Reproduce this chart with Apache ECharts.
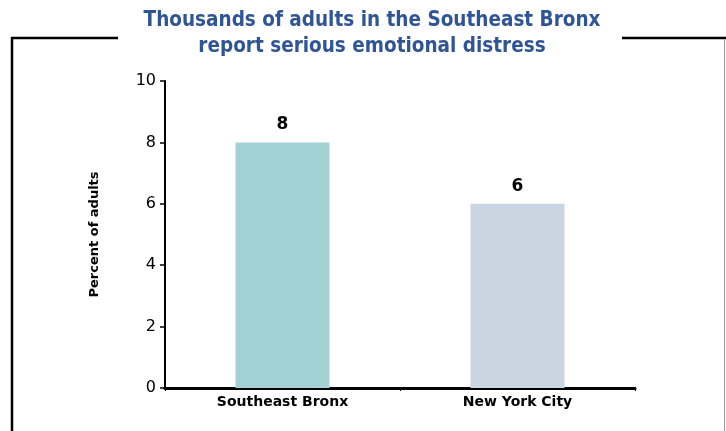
<!DOCTYPE html>
<html><head><meta charset="utf-8">
<script src="https://cdn.jsdelivr.net/npm/echarts@6/dist/echarts.min.js"></script>
<style>html,body{margin:0;padding:0;background:#fff}#c{width:726px;height:431px}</style>
</head><body><div id="c"></div>
<script>
var categories = ["Southeast Bronx", "New York City"];
var values = [8, 6];
var barColors = ["#a2d2d3", "#c9d5e1"];
var titleLines = ["Thousands of adults in the Southeast Bronx", "report serious emotional distress"];
var yTicks = [0, 2, 4, 6, 8, 10];

var chart = echarts.init(document.getElementById('c'), null, {renderer: 'canvas'});
var font = '"DejaVu Sans", Verdana, sans-serif';
var cond = '"DejaVu Sans Condensed", "DejaVu Sans", sans-serif';
chart.setOption({
  animation: false,
  title: {
    text: titleLines.join('\n'),
    left: 372, top: 8, textAlign: 'center',
    textStyle: {fontFamily: cond, fontSize: 20.5, fontWeight: 'bold', color: '#2f5597', lineHeight: 25.5},
    padding: 0
  },
  graphic: [
    {type: 'line', z: -1, shape: {x1: 11, y1: 38, x2: 118, y2: 38}, style: {stroke: '#000', lineWidth: 2.5}},
    {type: 'line', z: -1, shape: {x1: 622, y1: 38, x2: 726, y2: 38}, style: {stroke: '#000', lineWidth: 2.5}},
    {type: 'line', z: -1, shape: {x1: 12, y1: 37, x2: 12, y2: 431}, style: {stroke: '#000', lineWidth: 2.5}},
    {type: 'line', z: -1, shape: {x1: 724.5, y1: 39, x2: 724.5, y2: 431}, style: {stroke: '#999', lineWidth: 1}}
  ],
  grid: {left: 165, right: 91, top: 81, bottom: 43, containLabel: false},
  xAxis: {
    type: 'category', data: categories,
    axisLine: {lineStyle: {color: '#000', width: 3}},
    axisTick: {show: true, length: 3, lineStyle: {color: '#000'}},
    axisLabel: {fontFamily: font, fontSize: 14, fontWeight: 'bold', color: '#000', margin: 7}
  },
  yAxis: {
    type: 'value', min: 0, max: 10, interval: 2,
    name: 'Percent of adults', nameLocation: 'middle', nameGap: 64, nameRotate: 90,
    nameTextStyle: {fontFamily: font, fontSize: 13, fontWeight: 'bold', color: '#000'},
    axisLine: {show: true, lineStyle: {color: '#000', width: 2}},
    axisTick: {show: true, length: 5, lineStyle: {color: '#000', width: 1.5}},
    axisLabel: {fontFamily: font, fontSize: 16, color: '#000', margin: 9},
    splitLine: {show: false}
  },
  series: [{
    type: 'bar', barWidth: '40%',
    data: values.map(function (v, i) { return {value: v, itemStyle: {color: barColors[i]}}; }),
    label: {show: true, position: 'top', distance: 9, fontFamily: font, fontSize: 17, fontWeight: 'bold', color: '#000'}
  }]
});
</script></body></html>
